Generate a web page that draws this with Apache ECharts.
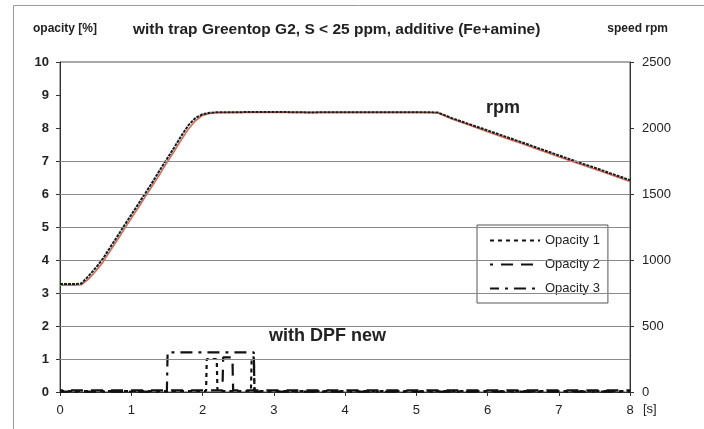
<!DOCTYPE html>
<html>
<head>
<meta charset="utf-8">
<script src="https://cdn.jsdelivr.net/npm/echarts@6/dist/echarts.min.js"></script>
<style>html,body{margin:0;padding:0;background:#fff}#c{width:704px;height:429px}</style>
</head>
<body>
<div id="c"></div>
<script>
// ---- data ----
const xTicks = [0, 1, 2, 3, 4, 5, 6, 7, 8];
const leftTicks = [0, 1, 2, 3, 4, 5, 6, 7, 8, 9, 10];
const rightTicks = [0, 500, 1000, 1500, 2000, 2500];
const gridLevels = [1, 2, 3, 4, 5, 6, 7];

const rpmTime  = [0, 0.1, 0.2, 0.3, 0.4, 0.5, 0.6, 0.7, 0.8, 0.9, 1.0, 1.1, 1.2, 1.3, 1.4, 1.5, 1.6, 1.7, 1.8, 1.9, 2.0, 2.1, 2.2, 2.5, 3.0, 3.5, 4.0, 4.5, 5.0, 5.3, 5.5, 5.75, 6.0, 6.25, 6.5, 6.75, 7.0, 7.25, 7.5, 7.75, 8.0];
const rpmBlack = [818, 818, 818, 822, 878, 940, 1008, 1092, 1175, 1260, 1342, 1425, 1508, 1592, 1680, 1765, 1850, 1938, 2020, 2075, 2105, 2115, 2120, 2120, 2122, 2118, 2120, 2120, 2120, 2118, 2075, 2028, 1982, 1935, 1888, 1840, 1793, 1745, 1700, 1652, 1605];
const rpmRed   = [810, 810, 810, 812, 855, 915, 982, 1065, 1148, 1232, 1315, 1398, 1482, 1565, 1650, 1738, 1822, 1908, 1990, 2055, 2095, 2110, 2116, 2118, 2118, 2118, 2118, 2118, 2118, 2115, 2068, 2020, 1972, 1925, 1878, 1830, 1782, 1735, 1690, 1642, 1595];

const op1Time  = [0, 2.05, 2.06, 2.2, 2.21, 2.68, 2.69, 2.72, 2.73, 8];
const op1Value = [0.03, 0.03, 1.0, 1.0, 0.03, 0.03, 1.05, 1.05, 0.03, 0.03];
const op2Time  = [0, 2.28, 2.29, 2.42, 2.43, 8];
const op2Value = [0.05, 0.05, 1.05, 1.05, 0.05, 0.05];
const op3Time  = [0, 1.5, 1.51, 2.72, 2.73, 8];
const op3Value = [0.01, 0.01, 1.2, 1.2, 0.01, 0.01];

const zip = (a, b) => a.map((v, i) => [v, b[i]]);
const F = '"Liberation Sans", Arial, sans-serif';

const chart = echarts.init(document.getElementById('c'), null, {renderer: 'canvas'});
chart.setOption({
  animation: false,
  backgroundColor: '#ffffff',
  grid: {left: 60, right: 74, top: 62, bottom: 37, show: true, borderColor: '#555', borderWidth: 1},
  xAxis: {
    type: 'value', min: xTicks[0], max: xTicks[xTicks.length - 1], interval: 1,
    axisLine: {lineStyle: {color: '#333', width: 1}},
    axisTick: {show: true, length: 4, lineStyle: {color: '#333'}},
    axisLabel: {color: '#222', fontSize: 13, fontFamily: F, margin: 12},
    splitLine: {show: false}
  },
  yAxis: [{
    type: 'value', min: leftTicks[0], max: leftTicks[leftTicks.length - 1], interval: 1,
    axisLine: {show: true, lineStyle: {color: '#333'}},
    axisTick: {show: true, length: 4, lineStyle: {color: '#333'}},
    axisLabel: {color: '#222', fontSize: 13, fontWeight: 'bold', fontFamily: F, margin: 11},
    splitLine: {show: false}
  }, {
    type: 'value', min: rightTicks[0], max: rightTicks[rightTicks.length - 1], interval: 500,
    position: 'right',
    axisLine: {show: true, lineStyle: {color: '#333'}},
    axisTick: {show: true, length: 4, lineStyle: {color: '#333'}},
    axisLabel: {color: '#222', fontSize: 13, fontFamily: F, margin: 12, formatter: v => String(v)},
    splitLine: {show: false}
  }],
  legend: {
    data: ['Opacity 1', 'Opacity 2', 'Opacity 3'],
    orient: 'vertical', left: 477, top: 225,
    backgroundColor: '#fff', borderColor: '#555', borderWidth: 1,
    padding: [9, 8, 8, 12], itemGap: 11, itemWidth: 50, itemHeight: 12,
    itemStyle: {color: 'transparent', borderColor: 'transparent', borderWidth: 0},
    textStyle: {color: '#222', fontSize: 13, fontFamily: F}
  },
  series: [
    {
      name: 'grid', type: 'line', data: [], silent: true,
      markLine: {silent: true, symbol: 'none', label: {show: false},
        lineStyle: {color: '#8a8a8a', width: 1, type: 'solid'},
        data: gridLevels.map(v => ({yAxis: v}))}
    },
    {name: 'rpm red', type: 'line', yAxisIndex: 1, data: zip(rpmTime, rpmRed), symbol: 'none',
      lineStyle: {color: '#cf6d5c', width: 1.6}},
    {name: 'rpm', type: 'line', yAxisIndex: 1, data: zip(rpmTime, rpmBlack), symbol: 'none',
      lineStyle: {color: '#1a1a1a', width: 2, type: [3, 1]}},
    {name: 'Opacity 3', type: 'line', data: zip(op3Time, op3Value), symbol: 'none',
      lineStyle: {color: '#111', width: 2.2, type: [12, 6, 3, 6], dashOffset: 3}},
    {name: 'Opacity 2', type: 'line', data: zip(op2Time, op2Value), symbol: 'none',
      lineStyle: {color: '#111', width: 2.2, type: [12, 8], dashOffset: 9}},
    {name: 'Opacity 1', type: 'line', data: zip(op1Time, op1Value), symbol: 'none',
      lineStyle: {color: '#111', width: 2.2, type: [4, 4], dashOffset: 0}}
  ],
  graphic: [
    {type: 'rect', shape: {x: 13.5, y: 5.5, width: 720, height: 440}, style: {fill: 'none', stroke: '#9a9a9a', lineWidth: 1}, silent: true},
    {type: 'text', left: 33, top: 23, style: {text: 'opacity [%]', font: 'bold 12px ' + F, fill: '#222'}},
    {type: 'text', left: 133, top: 22, style: {text: 'with trap Greentop G2, S < 25 ppm, additive (Fe+amine)', font: 'bold 15.5px ' + F, fill: '#222'}},
    {type: 'text', right: 36, top: 23, style: {text: 'speed rpm', font: 'bold 12px ' + F, fill: '#222'}},
    {type: 'text', left: 486, top: 99, style: {text: 'rpm', font: 'bold 18px ' + F, fill: '#222'}},
    {type: 'text', left: 269, top: 327, style: {text: 'with DPF new', font: 'bold 18px ' + F, fill: '#222'}},
    {type: 'text', left: 643, top: 403, style: {text: '[s]', font: '13px ' + F, fill: '#222'}}
  ]
});
</script>
</body>
</html>
